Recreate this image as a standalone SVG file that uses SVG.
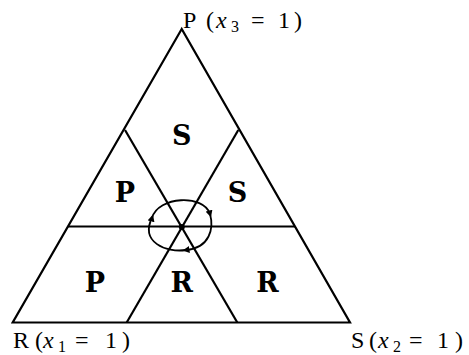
<svg xmlns="http://www.w3.org/2000/svg" width="469" height="355" viewBox="0 0 469 355">
  <style>
    .edge { fill: none; stroke: #000; stroke-width: 2.2; stroke-linejoin: miter; }
    .loop { fill: none; stroke: #000; stroke-width: 1.8; }
    .reg { font-family: "DejaVu Serif", "Liberation Serif", serif; font-weight: bold; font-size: 27px; text-anchor: middle; fill: #000; }
    .vlab { font-family: "Liberation Serif", "DejaVu Serif", serif; font-size: 24px; fill: #000; }
    .it { font-style: italic; }
    .sub { font-size: 16px; }
  </style>
  <defs>
    <marker id="arr" viewBox="0 0 10 10" refX="5" refY="5" markerWidth="7" markerHeight="7" markerUnits="userSpaceOnUse" orient="auto">
      <path d="M0,0 L10,5 L0,10 Z" fill="#000"/>
    </marker>
  </defs>
  <rect width="469" height="355" fill="#fff"/>
  <g id="connectors">
    <polygon class="edge" points="181.7,29 12.7,322.5 350,322.5"/>
    <line class="edge" x1="68" y1="226.5" x2="295" y2="226.5"/>
    <line class="edge" x1="125" y1="130" x2="237.3" y2="322.5"/>
    <line class="edge" x1="238.3" y1="130" x2="126.7" y2="322.5"/>
    <circle cx="181.8" cy="227" r="3" fill="#000"/>
    <path class="loop" marker-start="url(#arr)" marker-mid="url(#arr)" d="M152,218 C158,196 204,194 210,214 C214,228 210,248 186,250 C166,253 140,242 152,218"/>
  </g>
  <g id="region-top-S"><text class="reg" x="181.7" y="145">S</text></g>
  <g id="region-mid-P"><text class="reg" x="125" y="202">P</text></g>
  <g id="region-mid-S"><text class="reg" x="237.5" y="202">S</text></g>
  <g id="region-bot-P"><text class="reg" x="95" y="292">P</text></g>
  <g id="region-bot-R"><text class="reg" x="181.7" y="292">R</text></g>
  <g id="region-bot-R2"><text class="reg" x="267.5" y="292">R</text></g>
  <g id="vertex-P"><text class="vlab" y="28"><tspan x="183">P</tspan><tspan x="206">(</tspan><tspan class="it" x="216">x</tspan><tspan class="sub" x="231" dy="4">3</tspan><tspan x="251" dy="-4">=</tspan><tspan x="278">1</tspan><tspan x="294">)</tspan></text></g>
  <g id="vertex-R"><text class="vlab" y="348"><tspan x="13">R</tspan><tspan x="35">(</tspan><tspan class="it" x="43">x</tspan><tspan class="sub" x="58" dy="4">1</tspan><tspan x="75" dy="-4">=</tspan><tspan x="105">1</tspan><tspan x="122">)</tspan></text></g>
  <g id="vertex-S"><text class="vlab" y="348"><tspan x="351">S</tspan><tspan x="369">(</tspan><tspan class="it" x="378">x</tspan><tspan class="sub" x="393" dy="4">2</tspan><tspan x="409" dy="-4">=</tspan><tspan x="437">1</tspan><tspan x="455">)</tspan></text></g>
</svg>
